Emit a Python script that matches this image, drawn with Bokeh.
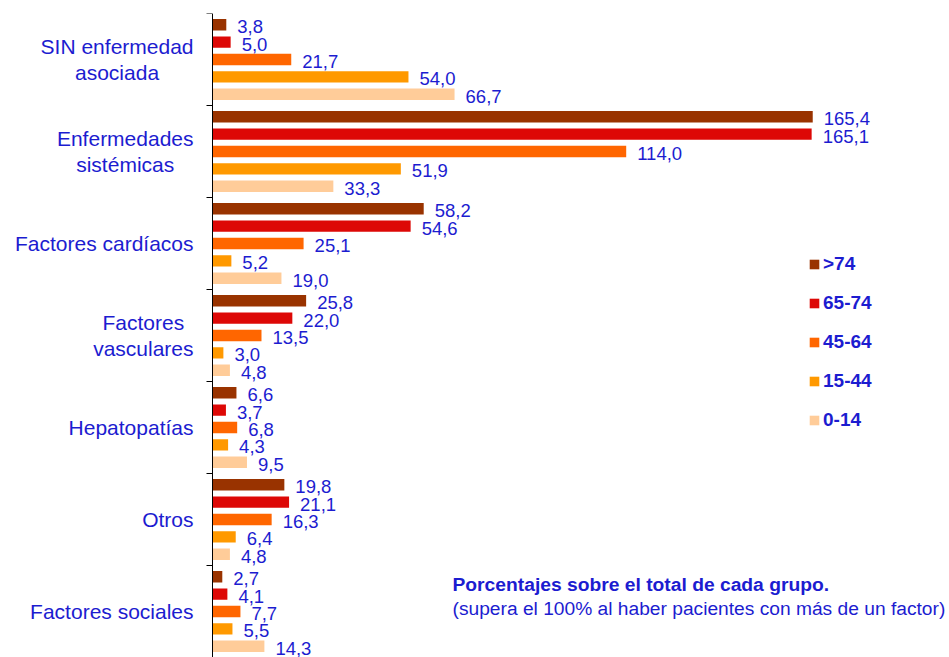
import math
from bokeh.plotting import figure
from bokeh.models import (Range1d, ColumnDataSource, Legend, LegendItem, Label, Span)
from bokeh.core.properties import value
from bokeh.embed import file_html
from bokeh.resources import INLINE

categories = ["SIN enfermedad\nasociada", "Enfermedades\nsistémicas", "Factores cardíacos",
              "Factores\nvasculares", "Hepatopatías", "Otros", "Factores sociales"]
series_names = [">74", "65-74", "45-64", "15-44", "0-14"]
v_gt74 = [3.8, 165.4, 58.2, 25.8, 6.6, 19.8, 2.7]
v_65_74 = [5.0, 165.1, 54.6, 22.0, 3.7, 21.1, 4.1]
v_45_64 = [21.7, 114.0, 25.1, 13.5, 6.8, 16.3, 7.7]
v_15_44 = [54.0, 51.9, 5.2, 3.0, 4.3, 6.4, 5.5]
v_0_14 = [66.7, 33.3, 19.0, 4.8, 9.5, 4.8, 14.3]
series_values = [v_gt74, v_65_74, v_45_64, v_15_44, v_0_14]
colors = ["#993300", "#DD0806", "#FF6600", "#FF9900", "#FFCC99"]
note_title = "Porcentajes sobre el total de cada grupo."
note_sub = "(supera el 100% al haber pacientes con más de un factor)"

BLUE = "#1C1CD0"
FONT = "Liberation Sans"

# Arial / Liberation Sans advance widths (per 1000 em) for label layout
ARIAL_W = {" ": 278, "S": 667, "I": 278, "N": 722, "E": 667, "F": 611, "H": 722, "O": 778,
           "a": 556, "c": 500, "d": 556, "e": 556, "f": 278, "i": 222, "l": 222, "m": 833,
           "n": 556, "o": 556, "p": 556, "r": 333, "s": 500, "t": 278, "u": 556, "v": 500,
           "é": 556, "í": 278}


def text_width(s, size):
    return sum(ARIAL_W.get(ch, 556) for ch in s) / 1000.0 * size


W, H = 949, 657
px_per_unit = 3.629
axis_px = 212          # screen x of the value axis (value 0)
top_border = 13
frame_h = H - top_border
group_px = 92.0
y_span = frame_h / group_px

p = figure(width=W, height=H, output_backend="svg", toolbar_location=None,
           x_range=Range1d(-axis_px / px_per_unit, (W - axis_px) / px_per_unit),
           y_range=Range1d(y_span, 0),
           min_border_left=0, min_border_right=0,
           min_border_top=top_border, min_border_bottom=0)
p.outline_line_color = None
p.xgrid.visible = False
p.ygrid.visible = False
p.xaxis.visible = False
p.yaxis.visible = False
p.background_fill_color = "white"
p.border_fill_color = "white"

n = len(categories)
step = 0.189
bar_h = 0.123
items = []
for j, (name, vals, col) in enumerate(zip(series_names, series_values, colors)):
    ys = [i + 0.5 + (j - 2) * step for i in range(n)]
    labels = [f"{v:.1f}".replace(".", ",") for v in vals]
    src = ColumnDataSource(dict(y=ys, right=vals, lab=labels))
    r = p.hbar(y="y", right="right", left=0, height=bar_h, source=src,
               fill_color=col, line_color=None)
    p.text(x="right", y="y", text="lab", source=src, x_offset=11, y_offset=2,
           text_font=value(FONT), text_font_size="18.5px", text_color=BLUE,
           text_baseline="middle", text_align="left")
    items.append(LegendItem(label=name, renderers=[r]))

# category axis: line at value 0, ticks at group boundaries
p.add_layout(Span(location=0, dimension="height", line_color="black", line_width=1))
p.ray(x=[0] * (n + 1), y=list(range(n + 1)), length=6, length_units="screen",
      angle=math.pi, line_color="black", line_width=1)

# category labels: block right-aligned at a fixed gap from the axis, lines centred
CAT_SIZE = 21
label_gap_px = 19
cat_x = [-(label_gap_px + max(text_width(line, CAT_SIZE) for line in c.split("\n")) / 2.0)
         / px_per_unit for c in categories]
cat_src = ColumnDataSource(dict(x=cat_x, y=[i + 0.5 for i in range(n)], t=categories))
p.text(x="x", y="y", text="t", source=cat_src, text_font=value(FONT),
       text_font_size=f"{CAT_SIZE}px", text_color=BLUE, text_align="center",
       text_baseline="middle", text_line_height=1.17)

legend = Legend(items=items, location=(596 + axis_px, 226), glyph_width=12, glyph_height=12,
                label_text_font=FONT, label_text_font_style="bold",
                label_text_font_size="19px", label_text_color=BLUE,
                spacing=17, padding=0, margin=0, label_standoff=3, label_height=21,
                border_line_color=None, background_fill_alpha=0)
p.add_layout(legend)

note_x = (452 - axis_px) / px_per_unit
p.add_layout(Label(x=note_x, y=(584 - top_border) / group_px, text=note_title,
                   text_font=FONT, text_font_style="bold", text_font_size="19.25px",
                   text_color=BLUE, text_baseline="middle"))
p.add_layout(Label(x=note_x, y=(608 - top_border) / group_px, text=note_sub,
                   text_font=FONT, text_font_size="19.2px",
                   text_color=BLUE, text_baseline="middle"))

open("out.html", "w").write(file_html(p, INLINE))
